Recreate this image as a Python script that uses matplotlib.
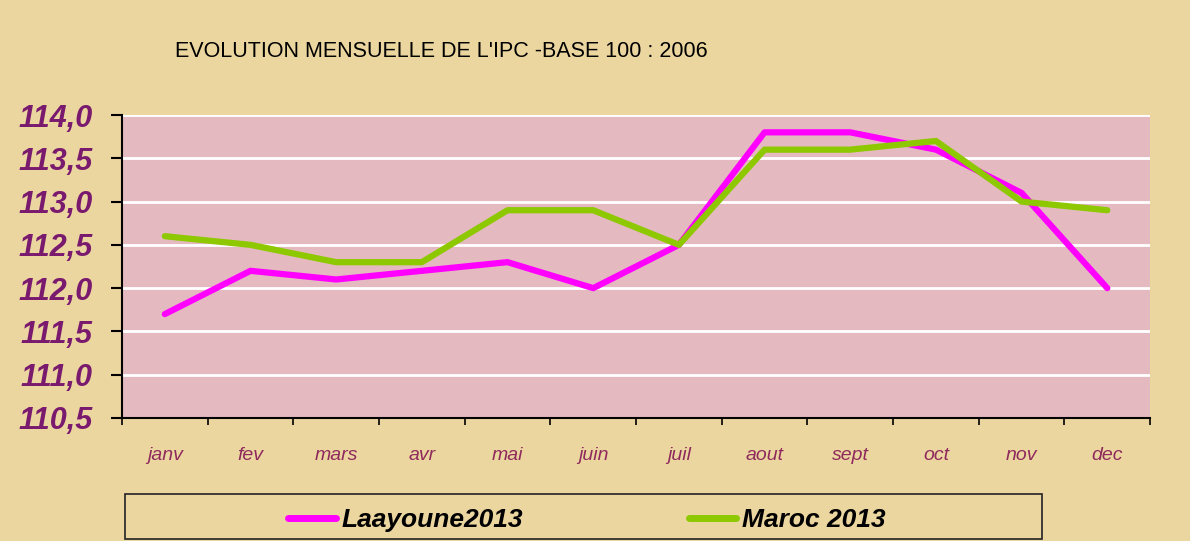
import matplotlib
matplotlib.use('Agg')
import matplotlib.pyplot as plt
from matplotlib.patches import Rectangle
from matplotlib.ticker import FuncFormatter, FixedLocator

# indice des prix a la consommation 2013, base 100 : 2006
mois = ['janv', 'fev', 'mars', 'avr', 'mai', 'juin',
        'juil', 'aout', 'sept', 'oct', 'nov', 'dec']
laayoune_2013 = [111.7, 112.2, 112.1, 112.2, 112.3, 112.0,
                 112.5, 113.8, 113.8, 113.6, 113.1, 112.0]
maroc_2013 = [112.6, 112.5, 112.3, 112.3, 112.9, 112.9,
              112.5, 113.6, 113.6, 113.7, 113.0, 112.9]

plt.rcParams['font.family'] = ['Liberation Sans', 'DejaVu Sans']

fig = plt.figure(figsize=(11.9, 5.41), dpi=100)
fig.patch.set_facecolor('#ECD6A0')

ax = fig.add_axes([0.1025, 0.2274, 0.864, 0.56])
ax.set_facecolor('#E4BAC0')

x = list(range(len(mois)))
ax.plot(x, laayoune_2013, color='#FF00FF', lw=4.5, label='Laayoune2013',
        solid_capstyle='round', zorder=3)
ax.plot(x, maroc_2013, color='#8DC800', lw=4.5, label='Maroc 2013',
        solid_capstyle='round', zorder=3)

ax.set_xlim(-0.5, len(mois) - 0.5)
ax.set_ylim(110.5, 114.0)
ax.set_yticks([110.5 + 0.5 * i for i in range(8)])
ax.yaxis.set_major_formatter(FuncFormatter(lambda v, p: f'{v:.1f}'.replace('.', ',')))
ax.grid(axis='y', color='white', lw=2)
ax.set_axisbelow(True)

# ticks aux limites des mois, libelles au centre
ax.xaxis.set_major_locator(FixedLocator([i - 0.5 for i in range(len(mois) + 1)]))
ax.xaxis.set_minor_locator(FixedLocator(x))
ax.set_xticklabels([])
ax.set_xticklabels(mois, minor=True)
ax.tick_params(axis='x', which='major', length=5, width=1.2, direction='out')
ax.tick_params(axis='x', which='minor', length=0, pad=21)
ax.tick_params(axis='y', length=8, width=1.5, direction='out', pad=13)

for lab in ax.get_yticklabels():
    lab.set_fontsize(22)
    lab.set_fontweight('bold')
    lab.set_fontstyle('italic')
    lab.set_color('#7A1A6E')
for lab in ax.get_xticklabels(minor=True):
    lab.set_fontsize(14)
    lab.set_fontstyle('italic')
    lab.set_color('#8E2A5C')

for s in ['top', 'right']:
    ax.spines[s].set_visible(False)
ax.spines['left'].set_linewidth(1.5)
ax.spines['bottom'].set_linewidth(1.5)

fig.text(0.147, 0.904, "EVOLUTION MENSUELLE DE L'IPC -BASE 100 : 2006",
         fontsize=15.5, ha='left', va='center', color='black')

# cadre de la legende
box = Rectangle((0.105, 0.003), 0.771, 0.083, transform=fig.transFigure,
                facecolor='none', edgecolor='#222222', lw=1.2)
fig.patches.append(box)
leg = fig.legend(loc='center', bbox_to_anchor=(0.493, 0.038), ncol=2,
                 frameon=False, handlelength=1.8, handletextpad=0.2,
                 columnspacing=6.3,
                 prop={'size': 19, 'weight': 'bold', 'style': 'italic'})
for ln in leg.get_lines():
    ln.set_linewidth(5)

fig.savefig('out.png', dpi=100, facecolor=fig.get_facecolor())
